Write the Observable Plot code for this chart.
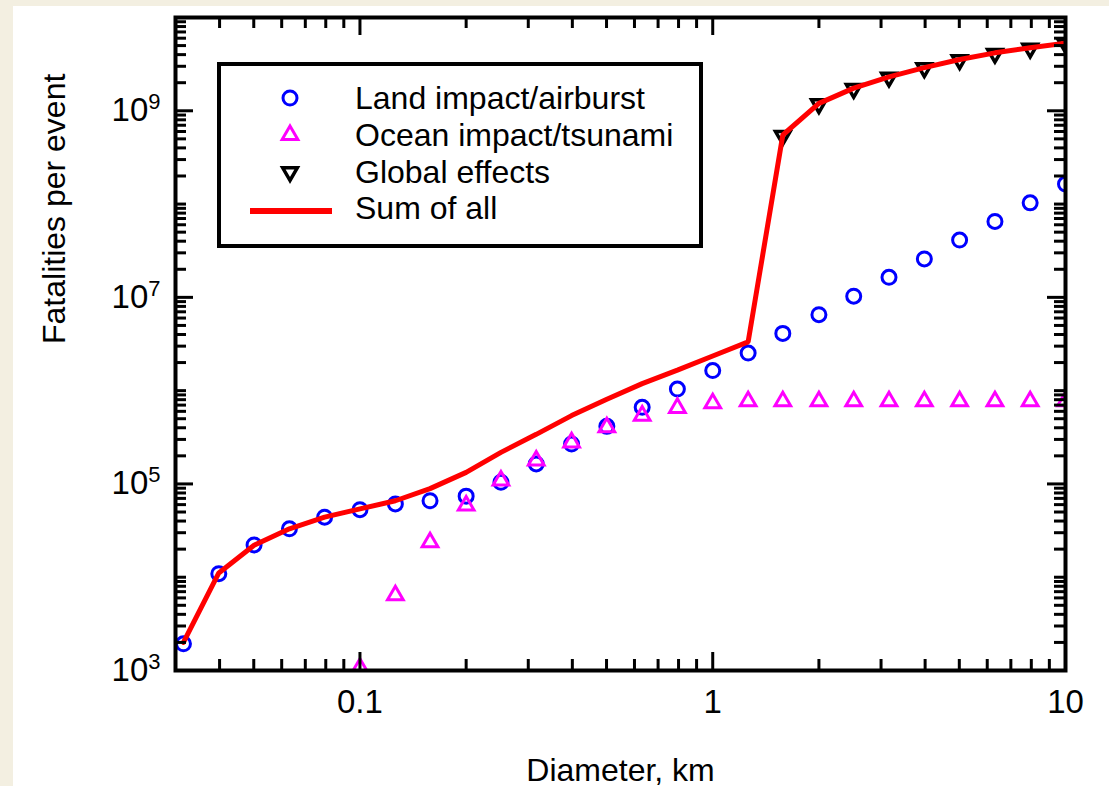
<!DOCTYPE html>
<html><head><meta charset="utf-8">
<script src="https://cdn.jsdelivr.net/npm/d3@7"></script>
<script src="https://cdn.jsdelivr.net/npm/@observablehq/plot@0.6"></script>
<style>
html,body{margin:0;padding:0;background:#f3efe1;}
body{width:1109px;height:786px;overflow:hidden;position:relative;}
#wrap{position:absolute;left:13px;top:6px;width:1096px;height:780px;background:#fff;}
#legend{position:absolute;left:204px;top:56px;width:486px;height:186px;box-sizing:border-box;border:4px solid #000;background:#fff;font-family:"Liberation Sans",Arial,sans-serif;font-size:32px;color:#000;}
.row{position:absolute;left:0;height:36px;line-height:36px;width:100%;}
.row svg{position:absolute;left:0;top:0;overflow:visible;}
.row span{position:absolute;left:134px;top:0;white-space:nowrap;}
</style></head>
<body><div id="wrap"></div>
<script>
// Data
const diameter = [0.0316, 0.0398, 0.0501, 0.0631, 0.0794, 0.1, 0.126, 0.158, 0.2, 0.251, 0.316, 0.398, 0.501, 0.631, 0.794, 1, 1.26, 1.58, 2, 2.51, 3.16, 3.98, 5.01, 6.31, 7.94, 10];
const land = [1930, 10900, 22200, 33000, 44000, 53000, 61000, 66000, 74000, 104000, 164000, 268000, 414000, 662000, 1.04e6, 1.64e6, 2.53e6, 4.11e6, 6.52e6, 1.03e7, 1.64e7, 2.58e7, 4.11e7, 6.52e7, 1.03e8, 1.64e8];
const ocean = [null, null, null, null, null, 1070, 6400, 23700, 58600, 108700, 178000, 279000, 405000, 540000, 653000, 731000, 769000, 770000, 770000, 770000, 770000, 770000, 770000, 770000, 770000, 770000];
const globalFx = [null, null, null, null, null, null, null, null, null, null, null, null, null, null, null, null, null, 5.4e8, 1.18e9, 1.72e9, 2.28e9, 2.87e9, 3.5e9, 4.1e9, 4.65e9, 5.2e9];
const sumAll = [2000, 11100, 22000, 33000, 44000, 54000, 66000, 89000, 133000, 218000, 340000, 540000, 810000, 1.19e6, 1.66e6, 2.35e6, 3.33e6, 5.5e8, 1.2e9, 1.75e9, 2.31e9, 2.9e9, 3.55e9, 4.18e9, 4.75e9, 5.3e9];
const xLabelTicks = [0.1, 1, 10];
const yLabelExponents = [3, 5, 7, 9];
const seriesNames = ["Land impact/airburst", "Ocean impact/tsunami", "Global effects", "Sum of all"];

const rows = diameter.map((d, i) => ({d, land: land[i], ocean: ocean[i], glob: globalFx[i], sum: sumAll[i]}));

const W = 1096, H = 780, mL = 162, mR = 44, mT = 11, mB = 116;
const fw = W - mL - mR, fh = H - mT - mB;
const minorLen = 11, majorLen = 18;

const xMinor = [];
for (const k of [-2, -1, 0]) for (let n = 2; n <= 9; n++) { const v = +(n * 10 ** k).toPrecision(3); if (v > 0.03 && v < 10) xMinor.push(v); }
const xMajor = [0.1, 1];
const yMinor = [];
for (let k = 3; k <= 9; k++) for (let n = 2; n <= 9; n++) yMinor.push(n * 10 ** k);
yMinor.push(1e4, 1e6, 1e8);
const yMajor = [1e5, 1e7, 1e9];

const font = "Liberation Sans, Arial, sans-serif";
const tk = {stroke: "black", strokeWidth: 3};

const plot = Plot.plot({
  width: W, height: H,
  marginLeft: mL, marginRight: mR, marginTop: mT, marginBottom: mB,
  style: {fontFamily: font, fontSize: "30px", color: "black", background: "white", overflow: "visible"},
  x: {type: "log", domain: [0.03, 10], axis: null},
  y: {type: "log", domain: [1e3, 1e10], axis: null},
  marks: [
    Plot.dot(rows, {x: "d", y: "land", r: 7, stroke: "#0000ff", strokeWidth: 3, fill: "none", clip: true}),
    Plot.dot(rows, {x: "d", y: "ocean", symbol: "triangle2", r: 7.5, stroke: "#ff00ff", strokeWidth: 3, fill: "none", clip: true}),
    Plot.dot(rows, {x: "d", y: "glob", symbol: "triangle2", rotate: 180, r: 7, stroke: "black", strokeWidth: 3.5, fill: "none", clip: true}),
    Plot.line(rows, {x: "d", y: "sum", stroke: "#ff0000", strokeWidth: 5, strokeLinejoin: "miter", clip: true}),
    // ticks (inward on all four sides)
    Plot.tickX(xMinor, {x: d => d, insetTop: fh - minorLen, ...tk}),
    Plot.tickX(xMinor, {x: d => d, insetBottom: fh - minorLen, ...tk}),
    Plot.tickX(xMajor, {x: d => d, insetTop: fh - majorLen, ...tk}),
    Plot.tickX(xMajor, {x: d => d, insetBottom: fh - majorLen, ...tk}),
    Plot.tickY(yMinor, {y: d => d, insetRight: fw - minorLen, ...tk}),
    Plot.tickY(yMinor, {y: d => d, insetLeft: fw - minorLen, ...tk}),
    Plot.tickY(yMajor, {y: d => d, insetRight: fw - majorLen, ...tk}),
    Plot.tickY(yMajor, {y: d => d, insetLeft: fw - majorLen, ...tk}),
    Plot.frame({stroke: "black", strokeWidth: 4}),
    // tick labels
    Plot.text(xLabelTicks, {x: d => d, frameAnchor: "bottom", dy: 32, text: d => String(d), fontSize: 33, lineAnchor: "middle", fill: "black"}),
    Plot.text(yLabelExponents, {y: d => 10 ** d, frameAnchor: "left", dx: -15, textAnchor: "end", text: d => "10^" + d, fontSize: 33, lineAnchor: "middle", fill: "black"}),
    // axis titles
    Plot.text(["Diameter, km"], {frameAnchor: "bottom", dy: 100, text: d => d, fontSize: 32, lineAnchor: "middle", fill: "black"}),
    Plot.text(["Fatalities per event"], {frameAnchor: "left", dx: -121, rotate: -90, text: d => d, fontSize: 32, lineAnchor: "middle", fill: "black"})
  ]
});

// turn "10^n" labels into 10 with a superscript exponent
d3.select(plot).selectAll("text").each(function () {
  const s = this.textContent;
  if (!/^10\^\d+$/.test(s)) return;
  const e = s.split("^")[1];
  const t = d3.select(this);
  t.text(null);
  t.append("tspan").text("10");
  t.append("tspan").attr("dy", -12).attr("font-size", 22).text(e);
});

const wrap = document.getElementById("wrap");
wrap.appendChild(plot);

// Legend
const legend = document.createElement("div");
legend.id = "legend";
const rowTops = [14, 51, 88, 124];
const circlePath = d3.symbol(d3.symbolCircle, Math.PI * 7 * 7)();
const triPath = d3.symbol(d3.symbolTriangle2, Math.PI * 7.5 * 7.5)();
const triPath2 = d3.symbol(d3.symbolTriangle2, Math.PI * 7 * 7)();
const markers = [
  `<path d="${circlePath}" transform="translate(69,18)" fill="none" stroke="#0000ff" stroke-width="3"/>`,
  `<path d="${triPath}" transform="translate(69,18)" fill="none" stroke="#ff00ff" stroke-width="3"/>`,
  `<path d="${triPath2}" transform="translate(69,18) rotate(180)" fill="none" stroke="#000" stroke-width="3.5"/>`,
  `<line x1="29" x2="111" y1="21" y2="21" stroke="#ff0000" stroke-width="6"/>`
];
seriesNames.forEach((name, i) => {
  const r = document.createElement("div");
  r.className = "row";
  r.style.top = rowTops[i] + "px";
  r.innerHTML = `<svg width="140" height="36">${markers[i]}</svg><span>${name}</span>`;
  legend.appendChild(r);
});
wrap.appendChild(legend);
</script></body></html>
